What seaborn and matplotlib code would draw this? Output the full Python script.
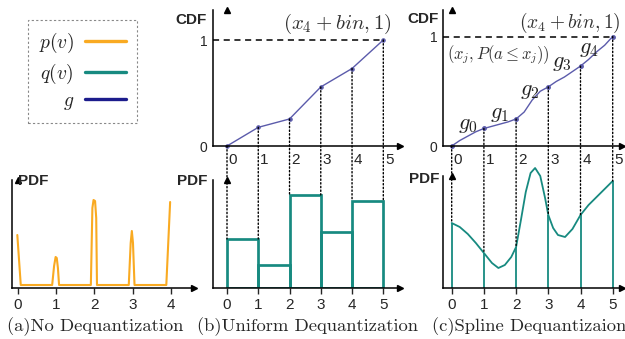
import matplotlib
matplotlib.use("Agg")
import matplotlib.pyplot as plt
import seaborn as sns
from matplotlib.lines import Line2D
from matplotlib.patches import ConnectionPatch
from matplotlib.transforms import ScaledTranslation

# ---- values ----
# (a) no dequantization: spikes at every integer
a_x = [-0.01, 0.08, 0.90, 0.95, 0.99, 1.02, 1.05, 1.08, 1.91, 1.95, 1.98, 2.02, 2.05, 2.07,
       2.90, 2.95, 2.98, 3.01, 3.05, 3.88, 3.98]
a_pdf = [0.53, 0.03, 0.03, 0.22, 0.31, 0.30, 0.20, 0.03, 0.03, 0.80, 0.88, 0.87, 0.70, 0.03,
         0.03, 0.45, 0.57, 0.45, 0.03, 0.03, 0.86]
a_ticks = [0, 1, 2, 3, 4]

# (b) uniform dequantization
bins = [0, 1, 2, 3, 4, 5]
b_hist = [0.49, 0.23, 0.93, 0.56, 0.87]
b_cdf = [0.0, 0.176, 0.255, 0.557, 0.731, 1.0]

# (c) spline dequantization
c_x = [0, 0.25, 0.5, 0.75, 1, 1.25, 1.5, 1.75, 2, 2.25, 2.5, 2.75, 3, 3.25, 3.5, 3.75, 4,
       4.25, 4.5, 4.75, 5]
c_cdf = [0.0, 0.05, 0.09, 0.13, 0.16, 0.18, 0.20, 0.22, 0.247, 0.31, 0.42, 0.50, 0.54, 0.59,
         0.63, 0.68, 0.73, 0.79, 0.86, 0.92, 1.0]
c_knot_cdf = [0.0, 0.16, 0.247, 0.54, 0.73, 1.0]
c_pdf_x = [0, 0.25, 0.5, 0.75, 1.0, 1.25, 1.45, 1.65, 1.85, 2.0, 2.15, 2.3, 2.45, 2.59, 2.75,
           2.9, 3.0, 3.15, 3.3, 3.52, 3.75, 4.0, 4.25, 4.5, 4.75, 5.0]
c_pdf = [0.65, 0.61, 0.54, 0.45, 0.35, 0.25, 0.20, 0.23, 0.31, 0.41, 0.68, 0.96, 1.15, 1.20,
         1.12, 0.90, 0.73, 0.60, 0.53, 0.51, 0.59, 0.73, 0.83, 0.91, 0.99, 1.07]
c_knot_pdf = [0.65, 0.35, 0.41, 0.73, 0.73, 1.07]
g_names = ["$g_0$", "$g_1$", "$g_2$", "$g_3$", "$g_4$"]
g_pos = [(0.51, 0.20), (1.50, 0.30), (2.43, 0.51), (3.42, 0.76), (4.26, 0.89)]

ORANGE = "#f9aa22"
TEAL = "#178a80"
NAVY = "#1c1c8c"
CDFLINE = "#5b5bab"

sns.set_style("white")
plt.rcParams["font.family"] = ["Liberation Sans", "DejaVu Sans"]
plt.rcParams["mathtext.fontset"] = "cm"

W, H = 625, 339
fig = plt.figure(figsize=(W / 100, H / 100), dpi=100)


def px(x, y):
    return x / W, 1 - y / H


def make_ax(left, right, top, bottom):
    ax = fig.add_axes([left / W, 1 - bottom / H, (right - left) / W, (bottom - top) / H])
    ax.patch.set_alpha(0)
    return ax


def finish(ax, box, x0px, step, yscale, top_panel):
    left, right, top, bottom = box
    ax.set_xlim((left - x0px) / step, (right - x0px) / step)
    ax.set_ylim(0, (bottom - top) / yscale)
    ax.set_xlabel("")
    ax.set_ylabel("")
    for s in ["top", "right"]:
        ax.spines[s].set_visible(False)
    for s in ["left", "bottom"]:
        ax.spines[s].set_linewidth(1.1)
        ax.spines[s].set_color("black")
    ax.plot(1, 0, ">k", ms=4, transform=ax.get_yaxis_transform(), clip_on=False)
    ax.plot(0, 1, "^k", ms=4, transform=ax.get_xaxis_transform(), clip_on=False)
    for ln in ax.lines:
        ln.set_clip_on(False)
    if top_panel:
        ax.set_xticks(bins)
        ax.tick_params(axis="x", length=0, pad=5, labelsize=11)
        for lab in ax.get_xticklabels():
            lab.set_transform(lab.get_transform() + ScaledTranslation(6 / 100, 0, fig.dpi_scale_trans))
        ax.set_yticks([0, 1])
        ax.tick_params(axis="y", length=0, pad=4, labelsize=10)
        ax.hlines(1, ax.get_xlim()[0], 5, colors="k", linestyles=(0, (4, 3)), lw=1.1)
    else:
        ax.tick_params(axis="x", length=4, width=1, direction="out", pad=3, labelsize=11, bottom=True)
        ax.set_yticks([])


# (a)
box_a = (12, 194, 180, 288)
ax_a = make_ax(*box_a)
sns.lineplot(x=a_x, y=a_pdf, ax=ax_a, color=ORANGE, lw=1.5, estimator=None, sort=False)
ax_a.set_xticks(a_ticks)
finish(ax_a, box_a, 17.7, 38.3, 100, False)

# (b)
box_bt = (213, 400, 10, 146)
box_bb = (213, 400, 180, 288)
ax_bt = make_ax(*box_bt)
ax_bb = make_ax(*box_bb)
sns.lineplot(x=bins, y=b_cdf, ax=ax_bt, color=CDFLINE, lw=1, marker="o", ms=2.5,
             mec=CDFLINE, estimator=None)
sns.histplot(x=bins[:-1], weights=b_hist, bins=bins, fill=False, color=TEAL, lw=1.3, ax=ax_bb)
ax_bb.set_xticks(bins)
finish(ax_bt, box_bt, 227, 31.26, 106, True)
finish(ax_bb, box_bb, 227, 31.26, 100, False)
ax_bt.text(3.52, 1.15, "$(x_4+bin,1)$", fontsize=15, color="#333333", ha="center", va="center")

# (c)
box_ct = (443, 622, 10, 146)
box_cb = (443, 622, 176, 288)
ax_ct = make_ax(*box_ct)
ax_cb = make_ax(*box_cb)
sns.lineplot(x=c_x, y=c_cdf, ax=ax_ct, color=CDFLINE, lw=1, estimator=None)
ax_ct.plot(bins, c_knot_cdf, "o", color=CDFLINE, ms=2.5)
sns.lineplot(x=c_pdf_x, y=c_pdf, ax=ax_cb, color=TEAL, lw=1.3, estimator=None)
ax_cb.vlines(bins, 0, c_knot_pdf, colors=TEAL, lw=1.3)
ax_cb.set_xticks(bins)
finish(ax_ct, box_ct, 451.7, 32.2, 109.5, True)
finish(ax_cb, box_cb, 451.7, 32.2, 100, False)
ax_ct.text(3.67, 1.12, "$(x_4+bin,1)$", fontsize=14, color="#333333", ha="center", va="center")
ax_ct.text(1.44, 0.83, r"$(x_j,P(a\leq x_j))$", fontsize=12, color="#333333", ha="center", va="center")
for name, (gx, gy) in zip(g_names, g_pos):
    ax_ct.text(gx, gy, name, fontsize=16, color="#222222", ha="center", va="center")

# dotted guides from the CDF knots down to the PDF
b_tops = [max(b_hist[max(k - 1, 0)], b_hist[min(k, len(b_hist) - 1)]) for k in bins]
for k in bins:
    fig.add_artist(ConnectionPatch(xyA=(k, b_cdf[k]), coordsA=ax_bt.transData,
                                   xyB=(k, b_tops[k]), coordsB=ax_bb.transData,
                                   color="k", lw=1, ls=":"))
    fig.add_artist(ConnectionPatch(xyA=(k, c_knot_cdf[k]), coordsA=ax_ct.transData,
                                   xyB=(k, c_knot_pdf[k]), coordsB=ax_cb.transData,
                                   color="k", lw=1, ls=":"))

# axis titles
bold = dict(fontsize=11, fontweight="bold", va="center")
fig.text(*px(18, 181), "PDF", ha="left", **bold)
fig.text(*px(207, 20), "CDF", ha="right", **bold)
fig.text(*px(207, 181), "PDF", ha="right", **bold)
fig.text(*px(439, 19), "CDF", ha="right", **bold)
fig.text(*px(439, 179), "PDF", ha="right", **bold)

# legend
handles = [Line2D([], [], color=c, lw=2.4) for c in (ORANGE, TEAL, NAVY)]
leg = fig.legend(handles, ["$p(v)$", "$q(v)$", "$g$"], loc="upper left",
                 bbox_to_anchor=px(28, 20), borderaxespad=0, markerfirst=False,
                 fancybox=False, edgecolor="#888888", framealpha=1, fontsize=14,
                 handlelength=2.1, handletextpad=0.6, labelspacing=0.35, borderpad=0.55)
leg.get_frame().set_linestyle((0, (2, 2)))
leg.get_frame().set_linewidth(0.8)

# captions
cap = dict(family="cmr10", fontsize=13.4, va="baseline", ha="left")
fig.text(*px(7, 331), "(a)No Dequantization", **cap)
fig.text(*px(197, 331), "(b)Uniform Dequantization", **cap)
fig.text(*px(432, 331), "(c)Spline Dequantizaion", **cap)

fig.savefig("out.png", dpi=100)
